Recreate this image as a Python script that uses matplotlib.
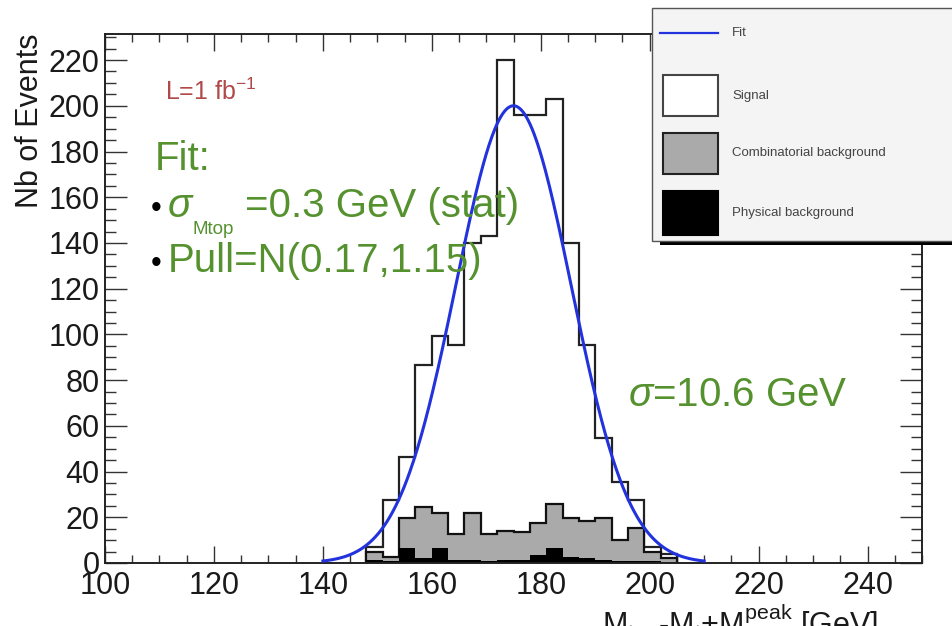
import numpy as np
import matplotlib
matplotlib.use("Agg")
import matplotlib.pyplot as plt
from matplotlib.patches import Rectangle
from matplotlib.lines import Line2D
from matplotlib.ticker import MultipleLocator

plt.rcParams['font.family'] = ['Liberation Sans', 'DejaVu Sans']
plt.rcParams['mathtext.fontset'] = 'custom'
plt.rcParams['mathtext.rm'] = 'Liberation Sans'
plt.rcParams['mathtext.it'] = 'Liberation Sans:italic'
plt.rcParams['mathtext.bf'] = 'Liberation Sans:bold'

# ---- histogram contents (3 GeV bins) ----
bin_edges = [148, 151, 154, 157, 160, 163, 166, 169, 172, 175, 178,
             181, 184, 187, 190, 193, 196, 199, 202, 205]
signal = [2, 25, 27, 62, 77.5, 83, 118, 130.5, 206, 182.5, 178.5,
          177, 120.5, 77, 35, 25.5, 12, 2, 2]
comb_bkg = [3.5, 1.5, 13, 22.5, 15.5, 11, 20.5, 11.5, 12.5, 12, 14,
            19.5, 17, 16.5, 18, 9, 14.5, 4, 1.5]
phys_bkg = [1.5, 1, 6.5, 2, 6.5, 1.5, 1.5, 1, 1.5, 1.5, 3.5,
            6.5, 2.5, 2, 1.5, 1, 1, 1, 0.5]

# ---- gaussian fit ----
fit_amplitude = 200.0
fit_mean = 175.0
fit_sigma = 10.6
fit_range = (140, 210)

x_ticks = [100, 120, 140, 160, 180, 200, 220, 240]
y_ticks = [0, 20, 40, 60, 80, 100, 120, 140, 160, 180, 200, 220]

W, H = 952, 626
fig = plt.figure(figsize=(W / 100, H / 100), dpi=100)
fig.patch.set_facecolor('white')


def fx(x):
    return x / W


def fy(y):
    return 1 - y / H


ax = fig.add_axes([fx(105), fy(563), (922 - 105) / W, (563 - 34) / H])
ax.set_xlim(100, 250)
ax.set_ylim(0, 231.4)

edges = np.array(bin_edges, dtype=float)
phys = np.array(phys_bkg)
bkg = phys + np.array(comb_bkg)
total = bkg + np.array(signal)

outline = '#222222'
ax.stairs(total, edges, fill=True, facecolor='white', zorder=2)
ax.stairs(total, edges, color=outline, lw=1.6, zorder=2.1)
ax.stairs(bkg, edges, fill=True, facecolor='#aaaaaa', zorder=2.2)
ax.stairs(bkg, edges, color='#111111', lw=1.6, zorder=2.3)
ax.stairs(phys, edges, fill=True, facecolor='black', zorder=2.4)

xf = np.linspace(fit_range[0], fit_range[1], 400)
yf = fit_amplitude * np.exp(-0.5 * ((xf - fit_mean) / fit_sigma) ** 2)
ax.plot(xf, yf, color='#2233dd', lw=2.2, zorder=3)

# ---- axes styling ----
ax.set_xticks(x_ticks)
ax.set_yticks(y_ticks)
ax.xaxis.set_minor_locator(MultipleLocator(5))
ax.yaxis.set_minor_locator(MultipleLocator(5))
for s in ax.spines.values():
    s.set_linewidth(1.4)
    s.set_color('#222222')
ax.tick_params(axis='both', which='both', direction='in', top=True,
               right=True, color='#333333', width=1.0, labelsize=22,
               labelcolor='#1a1a1a')
ax.tick_params(axis='x', which='major', length=12, pad=6)
ax.tick_params(axis='x', which='minor', length=6)
ax.tick_params(axis='y', which='major', length=16, pad=4)
ax.tick_params(axis='y', which='minor', length=8)

fig.text(fx(30), fy(34), 'Nb of Events', rotation=90, ha='center',
         va='top', fontsize=22, color='#1a1a1a')
fig.text(fx(878), fy(633),
         r'M$_\mathrm{top}$-M$_\mathrm{t}$+M$^\mathrm{peak}_\mathrm{top}$ [GeV]',
         ha='right', va='baseline', fontsize=22, color='#1a1a1a')

# ---- annotations ----
green = '#55922f'
fig.text(fx(165), fy(100), r'L=1 fb$^{-1}$', fontsize=18, color='#b04a4a',
         va='baseline')
fig.text(fx(155), fy(170), 'Fit:', fontsize=29, color=green, va='baseline')
fig.text(fx(151), fy(217), '\u2022', fontsize=22, color='black',
         va='baseline')
fig.text(fx(167), fy(217), r'$\sigma$', fontsize=29, color=green,
         va='baseline')
fig.text(fx(193), fy(234), 'Mtop', fontsize=13.5, color=green,
         va='baseline')
fig.text(fx(245), fy(217), '=0.3 GeV (stat)', fontsize=29, color=green,
         va='baseline')
fig.text(fx(151), fy(272), '\u2022', fontsize=22, color='black',
         va='baseline')
fig.text(fx(168), fy(272), 'Pull=N(0.17,1.15)', fontsize=29, color=green,
         va='baseline')
fig.text(fx(628), fy(406), r'$\sigma$=10.6 GeV', fontsize=29, color=green,
         va='baseline')

# ---- legend box ----
def frect(x0, y0, x1, y1, **kw):
    r = Rectangle((fx(x0), fy(y1)), (x1 - x0) / W, (y1 - y0) / H,
                  transform=fig.transFigure, clip_on=False, **kw)
    fig.add_artist(r)
    return r


frect(660, 240, 970, 245, facecolor='black', edgecolor='none', zorder=5)
frect(652, 8, 970, 241, facecolor='#f4f4f4', edgecolor='#555555', lw=1.0,
      zorder=6)
fig.add_artist(Line2D([fx(660), fx(718)], [fy(33), fy(33)],
                      transform=fig.transFigure, color='#2233dd', lw=1.6,
                      zorder=7))
frect(663, 75, 718, 116, facecolor='white', edgecolor='#444444', lw=1.5,
      zorder=7)
frect(663, 133, 718, 174, facecolor='#aaaaaa', edgecolor='#222222', lw=1.5,
      zorder=7)
frect(663, 191, 718, 235, facecolor='black', edgecolor='black', lw=1.5,
      zorder=7)

leg_labels = ['Fit', 'Signal', 'Combinatorial background',
              'Physical background']
leg_y = [33, 96, 153, 213]
for lab, y in zip(leg_labels, leg_y):
    fig.text(fx(732), fy(y), lab, fontsize=9.5, color='#444444',
             va='center', ha='left', zorder=8)

fig.savefig('out.png', dpi=100)
